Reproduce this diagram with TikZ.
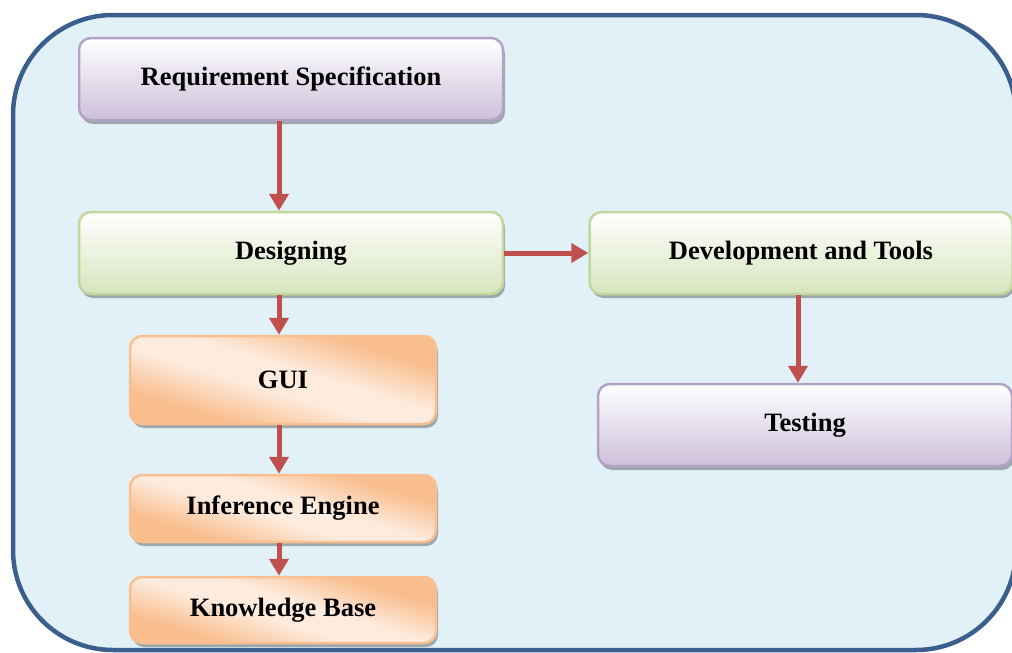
\documentclass[tikz,border=0pt]{standalone}
\usepackage{fontspec}
\setmainfont{Liberation Serif}
\usepackage{tikz}
\usetikzlibrary{arrows.meta, positioning, shadows}

\definecolor{panelfill}{HTML}{E2F1F7}
\definecolor{paneldraw}{HTML}{3A5F8E}
\definecolor{purpdark}{HTML}{CCC0DA}
\definecolor{purpline}{HTML}{B3A2C7}
\definecolor{grndark}{HTML}{D7E4BD}
\definecolor{grnline}{HTML}{C3D69B}
\definecolor{orgdark}{HTML}{F9BE8E}
\definecolor{orglight}{HTML}{FDEBDD}
\definecolor{orgline}{HTML}{F9BF91}
\definecolor{arrowred}{HTML}{C0504D}
\pgfdeclarehorizontalshading{orgband}{100bp}{color(0bp)=(orgdark); color(30bp)=(orgdark);
  color(45bp)=(orglight); color(55bp)=(orglight); color(70bp)=(orgdark); color(100bp)=(orgdark)}

\begin{document}
\begin{tikzpicture}[
  x=1pt, y=-1pt,
  box/.style={rounded corners=12pt, line width=2.5pt, font=\fontsize{26.5}{30}\selectfont\bfseries,
    drop shadow={shadow xshift=2pt, shadow yshift=-4pt, fill=black, opacity=0.3}},
  purpbox/.style={box, draw=purpline, top color=white, bottom color=purpdark},
  grnbox/.style={box, draw=grnline, top color=white, bottom color=grndark},
  orgbox/.style={box, draw=orgline, shading=orgband, shading angle=73},
  flow/.style={draw=arrowred, line width=5pt, -{Triangle[width=19pt,length=17pt]}}
]
\useasboundingbox (0,0) rectangle (1012,653);
\draw[fill=panelfill, draw=paneldraw, line width=4.5pt, rounded corners=100pt]
  (13,15) rectangle (1016,650);

% boxes
\node[purpbox, minimum width=424pt, minimum height=82pt] (req) at (291,79) {Requirement Specification};
\node[grnbox, minimum width=424pt, minimum height=82pt] (des) at (291,253) {Designing};
\node[grnbox, minimum width=423pt, minimum height=82pt] (dev) at (801,253) {Development and Tools};
\node[purpbox, minimum width=414pt, minimum height=82pt] (tst) at (805,425) {Testing};
\node[orgbox, minimum width=306pt, minimum height=88pt] (gui) at (283,380) {GUI};
\node[orgbox, minimum width=306pt, minimum height=67pt] (ine) at (283,508.5) {Inference Engine};
\node[orgbox, minimum width=306pt, minimum height=66pt] (kb) at (283,610) {Knowledge Base};

% arrows
\draw[flow] ([xshift=-12pt]req.south) -- ([xshift=-12pt]des.north);
\draw[flow] ([xshift=-12pt]des.south) -- ([xshift=-4pt]gui.north);
\draw[flow] ([xshift=-4pt]gui.south) -- ([xshift=-4pt]ine.north);
\draw[flow] ([xshift=-4pt]ine.south) -- ([xshift=-4pt]kb.north);
\draw[flow] (des.east) -- (dev.west);
\draw[flow] ([xshift=-3pt]dev.south) -- ([xshift=-7pt]tst.north);
\end{tikzpicture}
\end{document}
